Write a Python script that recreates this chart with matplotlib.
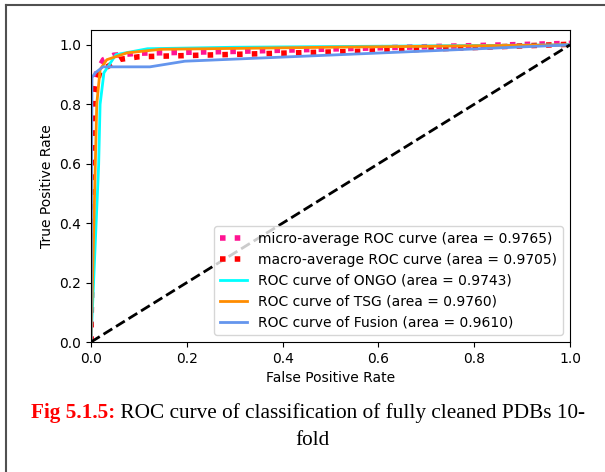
import matplotlib
matplotlib.use('Agg')
import matplotlib.pyplot as plt
from matplotlib.lines import Line2D

# ROC points
micro_fpr = [0.0, 0.004, 0.012, 0.026, 0.047, 0.10, 0.30, 0.60, 1.0]
micro_tpr = [0.0, 0.80, 0.911, 0.950, 0.965, 0.972, 0.978, 0.990, 1.005]
macro_fpr = [0.0, 0.005, 0.019, 0.060, 0.10, 0.30, 0.60, 1.0]
macro_tpr = [0.0, 0.828, 0.912, 0.951, 0.960, 0.968, 0.980, 1.002]
ongo_fpr = [0.0, 0.016, 0.019, 0.027, 0.052, 0.118, 0.30, 1.0]
ongo_tpr = [0.0, 0.597, 0.80, 0.906, 0.967, 0.987, 0.992, 1.0]
tsg_fpr = [0.0, 0.009, 0.012, 0.019, 0.033, 0.075, 0.145, 0.50, 1.0]
tsg_tpr = [0.0, 0.60, 0.80, 0.917, 0.950, 0.973, 0.985, 0.992, 1.0]
fusion_fpr = [0.0, 0.002, 0.009, 0.025, 0.123, 0.196, 0.535, 1.0]
fusion_tpr = [0.0, 0.89, 0.906, 0.926, 0.926, 0.945, 0.968, 1.0]

labels = ['micro-average ROC curve (area = 0.9765)',
          'macro-average ROC curve (area = 0.9705)',
          'ROC curve of ONGO (area = 0.9743)',
          'ROC curve of TSG (area = 0.9760)',
          'ROC curve of Fusion (area = 0.9610)']

fig = plt.figure(figsize=(6.05, 4.72), dpi=100)
ax = fig.add_axes([91/605, 1-342/472, 479/605, 312/472])

ax.plot(micro_fpr, micro_tpr, ':', color='deeppink', lw=4, label=labels[0])
ax.plot(macro_fpr, macro_tpr, ':', color='red', lw=4, label=labels[1])
ax.plot(ongo_fpr, ongo_tpr, color='aqua', lw=2, label=labels[2])
ax.plot(tsg_fpr, tsg_tpr, color='darkorange', lw=2, label=labels[3])
ax.plot(fusion_fpr, fusion_tpr, color='cornflowerblue', lw=2, label=labels[4])
ax.plot([0, 1], [0, 1], 'k--', lw=2)

ax.set_xlim(0.0, 1.0)
ax.set_ylim(0.0, 1.05)
ax.set_xlabel('False Positive Rate', fontsize=10)
ax.set_ylabel('True Positive Rate', fontsize=10)
ax.tick_params(labelsize=10)
ax.legend(loc='lower right', fontsize=10)

# outer frame of the page
fig.add_artist(Line2D([6/605, 1.0], [1-5/472, 1-5/472], color='#505050', lw=1.5))
fig.add_artist(Line2D([6/605, 6/605], [0.0, 1-5/472], color='#505050', lw=1.5))

# caption
red = fig.text(31/605, 1-418/472, 'Fig 5.1.5:', color='red', fontweight='bold',
               family='Liberation Serif', fontsize=15.3, va='baseline')
ax.annotate(' ROC curve of classification of fully cleaned PDBs 10-', xy=(1, 0),
            xycoords=red, va='bottom', ha='left', family='Liberation Serif',
            fontsize=15.3, color='black', annotation_clip=False)
fig.text(312/605, 1-445/472, 'fold', ha='center', va='baseline',
         family='Liberation Serif', fontsize=15.3, color='black')

fig.savefig('out.png', dpi=100)
